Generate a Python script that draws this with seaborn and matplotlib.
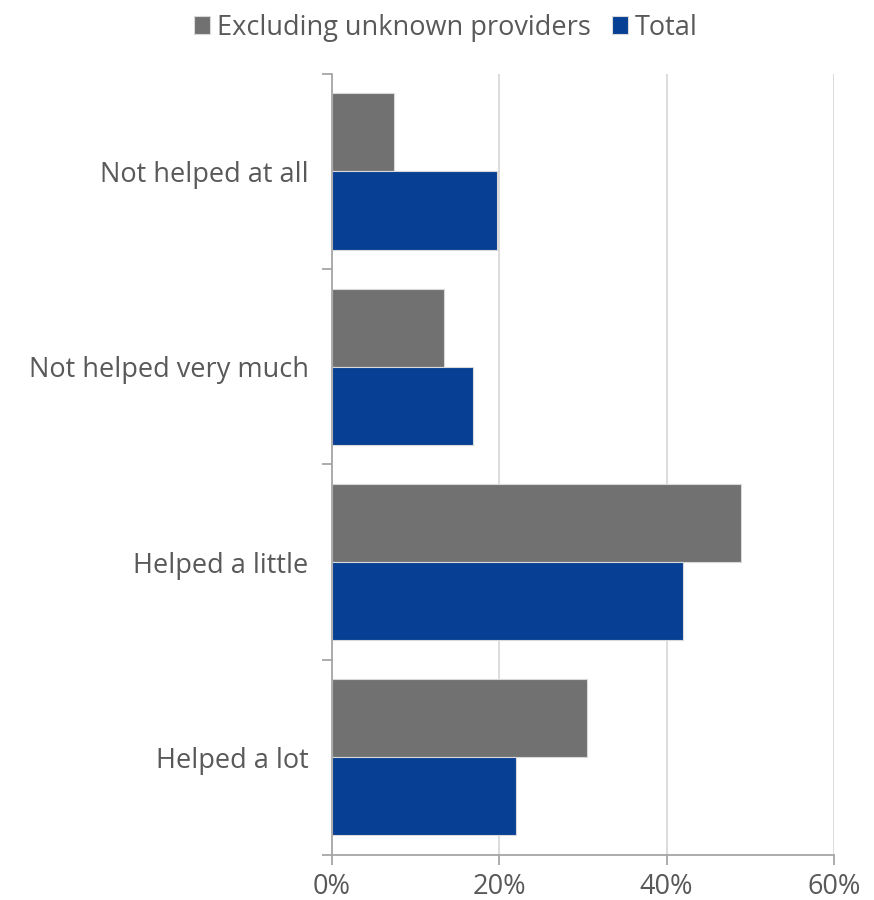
import pandas as pd
import seaborn as sns
import matplotlib.pyplot as plt
from matplotlib.ticker import FixedLocator, PercentFormatter

# Data
categories = ["Not helped at all", "Not helped very much", "Helped a little", "Helped a lot"]
series_names = ["Excluding unknown providers", "Total"]
excluding_unknown = [7.4, 13.4, 48.9, 30.5]
total = [19.7, 16.8, 42.0, 22.0]
x_ticks = [0, 20, 40, 60]

df = pd.DataFrame({
    "category": categories * 2,
    "series": [series_names[0]] * 4 + [series_names[1]] * 4,
    "value": excluding_unknown + total,
})

sns.set_theme(style="white")
plt.rcParams["font.family"] = ["Open Sans", "DejaVu Sans"]
text_col = "#595959"
axis_col = "#a6a6a6"

fig = plt.figure(figsize=(8.74, 9.0), dpi=100)
ax = fig.add_axes([0.380, 0.05, 0.574, 0.868])

sns.barplot(data=df, x="value", y="category", hue="series", order=categories,
            hue_order=series_names, palette=["#717171", "#073f94"], saturation=1,
            width=0.8, orient="h", edgecolor="#d9d9d9", linewidth=0.8, ax=ax)

ax.set_xlim(0, 60)
ax.set_ylim(3.5, -0.5)
ax.xaxis.set_major_locator(FixedLocator(x_ticks))
ax.xaxis.set_major_formatter(PercentFormatter(decimals=0))
ax.grid(axis="x", color="#d9d9d9", linewidth=1.3)
ax.set_axisbelow(True)

# category boundary ticks on the y axis
ax.yaxis.set_minor_locator(FixedLocator([-0.5, 0.5, 1.5, 2.5, 3.5]))
ax.tick_params(axis="y", which="major", length=0, pad=17, labelsize=19.5, labelcolor=text_col)
ax.tick_params(axis="y", which="minor", length=7, width=1.3, color=axis_col, left=True)
ax.tick_params(axis="x", which="major", length=7, width=1.3, color=axis_col, bottom=True,
               pad=6, labelsize=19.5, labelcolor=text_col)

for s in ["top", "right"]:
    ax.spines[s].set_visible(False)
for s in ["left", "bottom"]:
    ax.spines[s].set_color(axis_col)
    ax.spines[s].set_linewidth(1.3)

ax.set_xlabel("")
ax.set_ylabel("")

handles, labels = ax.get_legend_handles_labels()
ax.legend(handles, labels, loc="upper center", bbox_to_anchor=(0.51, 1.012), bbox_transform=fig.transFigure,
          ncol=2, frameon=False, fontsize=19.5, labelcolor=text_col, handlelength=0.6,
          handleheight=0.6, handletextpad=0.25, columnspacing=0.8)

fig.savefig("out.png", dpi=100, facecolor="white")
